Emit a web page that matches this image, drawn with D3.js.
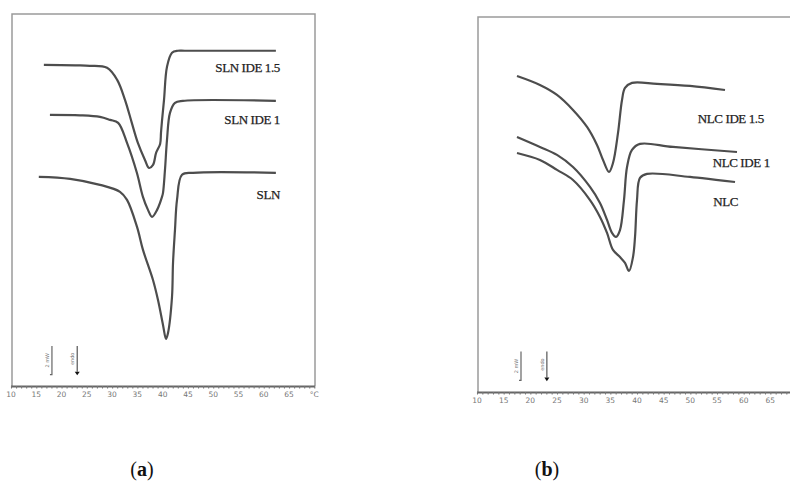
<!DOCTYPE html>
<html>
<meta charset="utf-8" />
<script src="https://d3js.org/d3.v7.min.js"></script>
<style>
  body { margin: 0; background: #fff; }
  .frame { stroke: #9a9a9a; stroke-width: 1.5; fill: none; }
  .curve { fill: none; stroke: #4d4d4d; stroke-width: 2.2; stroke-linejoin: round; }
  .lbl { font-family: "Liberation Serif", "DejaVu Serif", serif; font-size: 13px; fill: #222; stroke: #222; stroke-width: 0.25px; letter-spacing: -0.4px; }
  .tick-lbl { font-family: "DejaVu Sans", sans-serif; font-size: 7.5px; fill: #777; }
  .cap { font-family: "Liberation Serif", serif; font-size: 20px; fill: #111; }
</style>
<body>
<svg id="fig" width="790" height="482"></svg>
<script>
// temperature ticks (°C)
const tempTicks = [10, 15, 20, 25, 30, 35, 40, 45, 50, 55, 60, 65];

// panel (a): heat flow (mW, offset) vs temperature (°C)
const slnIde15 = [[16.5,22.45],[22.7,22.41],[25.6,22.38],[29.0,22.24],[31.0,21.40],[32.55,20.0],[33.9,18.39],
  [35.1,16.99],[36.5,15.8],[37.3,15.24],[38.1,15.45],[38.7,16.29],[39.5,16.92],[39.67,17.69],[39.87,18.53],
  [40.27,20.0],[40.86,22.31],[41.85,23.29],[43.0,23.43],[44.4,23.43],[62.4,23.43]];
const slnIde1 = [[17.7,18.95],[23.65,18.92],[27.6,18.81],[29.6,18.6],[31.2,18.39],[32.95,16.99],[34.9,14.9],
  [36.1,13.22],[37.1,12.31],[37.9,11.82],[38.9,12.31],[39.87,13.22],[40.07,13.5],[40.46,15.1],[40.86,17.2],
  [41.45,19.09],[42.44,19.79],[44.0,19.93],[62.4,19.93]];
const sln = [[15.5,14.62],[21.7,14.48],[27.6,14.06],[31.56,13.57],[32.95,13.01],[34.93,11.12],[36.11,9.51],
  [38.09,7.41],[39.08,6.01],[40.07,4.27],[40.66,3.29],[41.06,3.71],[41.85,6.22],[42.05,8.6],[42.44,10.91],
  [42.84,13.01],[43.83,14.76],[46.0,14.9],[62.4,14.9]];

// panel (b)
const nlcIde15 = [[17.5,21.91],[21.8,21.29],[25.0,20.6],[28.0,19.56],[30.63,18.38],[32.5,17.13],[33.63,16.09],
  [34.75,15.26],[35.5,15.88],[36.44,17.96],[37.19,20.25],[37.75,21.08],[39.06,21.43],[43.75,21.36],
  [49.94,21.22],[56.5,20.94]];
const nlcIde1 = [[17.5,17.68],[21.8,16.99],[25.0,16.44],[28.0,15.6],[31.19,14.22],[33.06,13.11],[34.38,11.93],
  [35.31,11.03],[36.06,10.75],[36.81,11.23],[37.56,13.31],[38.13,15.6],[39.06,16.78],[40.56,17.2],
  [46.75,16.99],[58.75,16.64]];
const nlc = [[17.5,16.57],[21.8,16.09],[25.0,15.4],[28.0,14.7],[31.19,13.31],[33.06,12.14],[34.38,11.03],
  [35.5,9.85],[36.81,9.36],[37.75,8.95],[38.5,8.39],[39.25,9.36],[39.63,10.75],[40.0,13.31],[40.56,14.84],
  [41.88,15.12],[49.94,14.91],[58.38,14.56]];

const namesA = ["SLN IDE 1.5", "SLN IDE 1", "SLN"];
const namesB = ["NLC IDE 1.5", "NLC IDE 1", "NLC"];

const svg = d3.select("#fig");

function panel(o) {
  const x = d3.scaleLinear().domain([10, 70]).range([o.x0, o.x1]);
  const y = d3.scaleLinear().domain([0, 26]).range([o.yb, o.yt]);
  const g = svg.append("g");

  // frame
  const fr = [[o.x0 + 1, o.yb], [o.x0 + 1, o.yt], [o.frameRight, o.yt]];
  if (o.closed) fr.push([o.frameRight, o.yb]);
  g.append("path").attr("class", "frame").attr("d", d3.line()(fr));

  // temperature axis with minor ticks
  const ax = g.append("g").attr("transform", `translate(0,${o.yb})`)
    .call(d3.axisBottom(x).tickValues(d3.range(10, o.axisEnd + 0.1, 1)).tickSize(2.5).tickFormat(""));
  ax.select(".domain").attr("stroke", "#666").attr("stroke-width", 1.8)
    .attr("d", `M${o.x0},0.5H${o.axisRight}`);
  ax.selectAll(".tick line").attr("stroke", "#777").attr("stroke-width", 1.1);

  g.selectAll(".tick-lbl").data(tempTicks).join("text")
    .attr("class", "tick-lbl").attr("x", d => x(d)).attr("y", o.yb + 10.5)
    .attr("text-anchor", "middle").text(d => d);
  if (o.unit) {
    g.append("text").attr("class", "tick-lbl").attr("x", x(70)).attr("y", o.yb + 10.5)
      .attr("text-anchor", "middle").text("°C");
  }

  // curves
  const line = d3.line().x(d => x(d[0])).y(d => y(d[1])).curve(d3.curveCatmullRom.alpha(0.5));
  g.selectAll(".curve").data(o.series).join("path").attr("class", "curve").attr("d", line);

  // labels
  o.series.forEach((s, i) => {
    g.append("text").attr("class", "lbl")
      .attr("x", x(o.labelPos[i][0])).attr("y", y(o.labelPos[i][1]))
      .attr("text-anchor", o.anchor).text(o.names[i]);
  });

  // 2 mW scale bar
  const sb = x(o.barT);
  g.append("path").attr("d", `M${sb},${y(2.8)}V${y(0.8)}h-2`)
    .attr("stroke", "#666").attr("stroke-width", 1.2).attr("fill", "none");
  g.append("text").attr("class", "tick-lbl").style("font-size", "5px")
    .attr("transform", `translate(${sb - 3},${y(1.8)}) rotate(-90)`)
    .attr("text-anchor", "middle").text("2 mW");

  // endo arrow
  const ea = x(o.endoT);
  g.append("line").attr("x1", ea).attr("x2", ea).attr("y1", y(2.8)).attr("y2", y(1.0))
    .attr("stroke", "#555").attr("stroke-width", 1.2);
  g.append("path").attr("d", `M${ea - 2.5},${y(1.0)}L${ea + 2.5},${y(1.0)}L${ea},${y(0.75)}Z`).attr("fill", "#111");
  g.append("text").attr("class", "tick-lbl").style("font-size", "5px")
    .attr("transform", `translate(${ea - 3},${y(1.9)}) rotate(-90)`)
    .attr("text-anchor", "middle").text("endo");

  // caption
  const cap = svg.append("text").attr("class", "cap").attr("x", o.capX).attr("y", 476).attr("text-anchor", "middle");
  cap.append("tspan").text("(");
  cap.append("tspan").style("font-weight", "bold").text(o.cap);
  cap.append("tspan").text(")");
}

panel({
  x0: 11, x1: 314.3, yt: 14, yb: 386, frameRight: 315, closed: true, axisRight: 315, axisEnd: 70, unit: true,
  series: [slnIde15, slnIde1, sln], names: namesA, anchor: "end",
  labelPos: [[63.2, 21.95], [63.2, 18.32], [63.2, 13.08]],
  barT: 18.1, endoT: 23.1, capX: 142, cap: "a"
});

panel({
  x0: 477, x1: 797, yt: 17, yb: 392, frameRight: 790, closed: false, axisRight: 790, axisEnd: 68, unit: false,
  series: [nlcIde15, nlcIde1, nlc], names: namesB, anchor: "start",
  labelPos: [[51.4, 18.65], [54.2, 15.6], [54.3, 12.9]],
  barT: 18.25, endoT: 23.1, capX: 547, cap: "b"
});
</script>
</body>
</html>
